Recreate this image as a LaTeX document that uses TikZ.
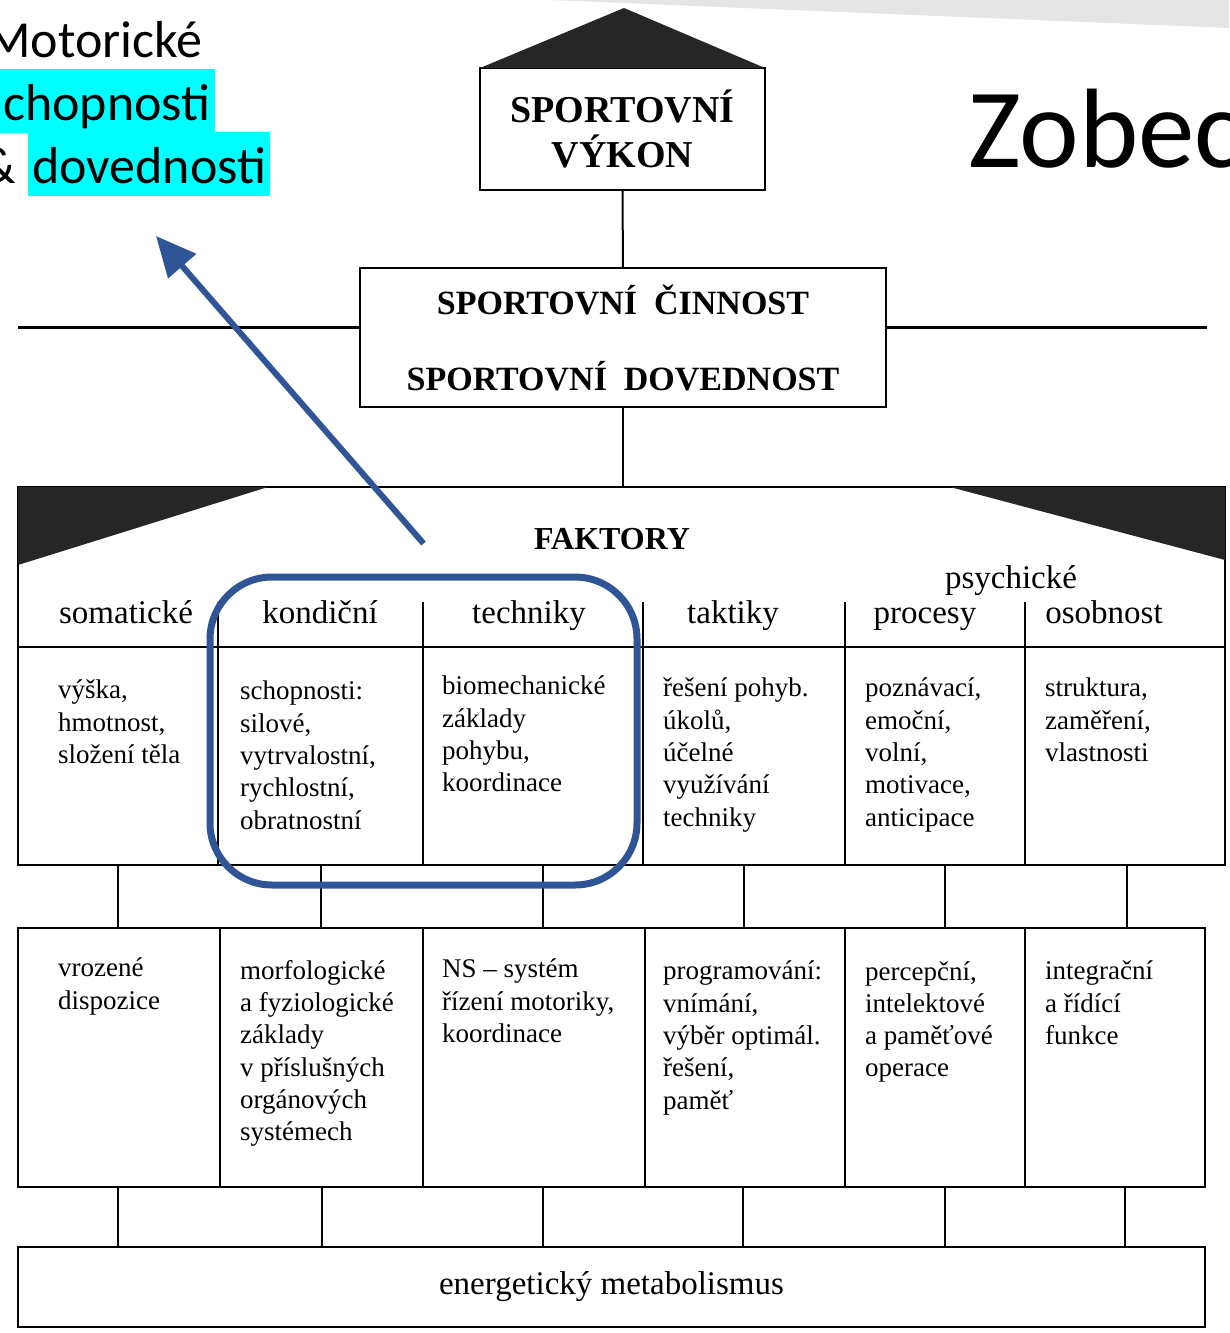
\documentclass[tikz,border=0pt]{standalone}
\usepackage{fontspec}
\setmainfont{Liberation Serif}
\newfontfamily\slidefont{Carlito}
\usetikzlibrary{positioning}
\usetikzlibrary{calc}
\usetikzlibrary{arrows.meta}
\definecolor{navy}{HTML}{2F5597}
\definecolor{marker}{HTML}{00FFFF}
\tikzset{box/.style={draw=black,line width=2.5pt,inner sep=0pt,outer sep=0pt}}
\tikzset{cella/.style={box,minimum height=218pt}}
\tikzset{cellb/.style={box,minimum height=259pt}}
\tikzset{ln/.style={line width=2pt}}
\tikzset{bar/.style={line width=3pt}}
\tikzset{dark/.style={fill=black!85}}
\tikzset{hd/.style={font=\fontsize{33}{38}\selectfont,inner sep=0pt,anchor=base}}
\tikzset{txt/.style={font=\fontsize{27}{32.3}\selectfont,align=left,inner sep=0pt}}
\tikzset{ttl/.style={font=\bfseries\fontsize{34}{76}\selectfont,align=center}}
\tikzset{sl/.style={font=\slidefont\fontsize{52}{63}\selectfont,inner sep=0pt}}
\tikzset{hl/.style={fill=marker,text height=51pt,text depth=13pt,inner xsep=4pt,inner ysep=0pt}}
\tikzset{sel/.style={draw=navy,line width=7pt,rounded corners=62pt,inner sep=0pt}}
\tikzset{>={Triangle[length=40pt,width=36pt]}}

\begin{document}
\begin{tikzpicture}[x=1pt,y=-1pt]
\useasboundingbox (0,0) rectangle (1229,1333);
\fill[black!10] (550,0) -- (1229,0) -- (1229,28) -- cycle;

\node[sl,anchor=base west] (mot) at (-14,57) {Motorické};
\node[sl,hl,anchor=base west] (sch) at (-1,120) {chopnosti};
\node[sl,hl,anchor=base west] (dov) at (28,183) {dovednosti};
\node[sl,anchor=base east] (amp) at (16,183) {\&};
\node[font=\slidefont\fontsize{113}{130}\selectfont,inner sep=0pt,anchor=base west] (zob) at (968,167) {Zobec};

\node[box,font=\bfseries\fontsize{38}{45}\selectfont,align=center,minimum width=285pt,minimum height=122pt] (vyk) at (622.5,129) {SPORTOVNÍ\\VÝKON};
\coordinate (roof) at (624,8);
\fill[dark] (vyk.north west) -- (roof) -- (vyk.north east) -- cycle;

\node[box,ttl,minimum width=526pt,minimum height=139pt] (cin) at (623,337.5) {SPORTOVNÍ~~ČINNOST\\SPORTOVNÍ~~DOVEDNOST};
\coordinate (wl) at (18,327);
\coordinate (wr) at (1207,327);
\draw[ln] (vyk) -- (cin);
\draw[bar] (wl) -- (wl -| cin.west);
\draw[bar] (cin.east |- wr) -- (wr);

\node[cella,minimum width=200pt] (a1) at (118,756) {};
\node[cella,minimum width=205pt,right=0pt of a1] (a2) {};
\node[cella,minimum width=220pt,right=0pt of a2] (a3) {};
\node[cella,minimum width=202pt,right=0pt of a3] (a4) {};
\node[cella,minimum width=180pt,right=0pt of a4] (a5) {};
\node[cella,minimum width=200pt,right=0pt of a5] (a6) {};

\node[box,minimum width=1207pt,minimum height=160pt,anchor=south west] (fak) at (a1.north west) {};
\fill[dark] (fak.north west) -- ++(250,0) -- ++(-250,78) -- cycle;
\fill[dark] (fak.north east) -- ++(-275,0) -- ++(275,73) -- cycle;
\draw[ln] (cin) -- (cin |- fak.north);
\foreach \i in {2,...,6} \draw[ln] (a\i.north west) -- ++(0,-45);

\node[font=\bfseries\fontsize{32}{38}\selectfont,inner sep=0pt,anchor=base] (fk) at (612,549) {FAKTORY};
\node[hd] (h1) at (126,623) {somatické};
\node[hd] (h2) at (320,623) {kondiční};
\node[hd] (h3) at (529,623) {techniky};
\node[hd] (h4) at (733,623) {taktiky};
\node[hd] (h5) at (925,623) {procesy};
\node[hd] (h6) at (1104,623) {osobnost};
\node[hd] (h7) at (1011,588) {psychické};

\node[txt,below right=33pt and 40pt of a1.north west] (ta1) {výška,\\hmotnost,\\složení těla};
\node[txt,below right=34pt and 22pt of a2.north west] (ta2) {schopnosti:\\silové,\\vytrvalostní,\\rychlostní,\\obratnostní};
\node[txt,below right=29pt and 19pt of a3.north west] (ta3) {biomechanické\\základy\\pohybu,\\koordinace};
\node[txt,below right=31pt and 20pt of a4.north west] (ta4) {řešení pohyb.\\úkolů,\\účelné\\využívání\\techniky};
\node[txt,below right=31pt and 20pt of a5.north west] (ta5) {poznávací,\\emoční,\\volní,\\motivace,\\anticipace};
\node[txt,below right=31pt and 20pt of a6.north west] (ta6) {struktura,\\zaměření,\\vlastnosti};

\node[cellb,minimum width=202pt,below right=63pt and 0pt of a1.south west] (b1) {};
\node[cellb,minimum width=203pt,right=0pt of b1] (b2) {};
\node[cellb,minimum width=222pt,right=0pt of b2] (b3) {};
\node[cellb,minimum width=200pt,right=0pt of b3] (b4) {};
\node[cellb,minimum width=180pt,right=0pt of b4] (b5) {};
\node[cellb,minimum width=180pt,right=0pt of b5] (b6) {};

\node[txt,below right=30pt and 40pt of b1.north west] (tb1) {vrozené\\dispozice};
\node[txt,below right=32pt and 20pt of b2.north west] (tb2) {morfologické\\a fyziologické\\základy\\v příslušných\\orgánových\\systémech};
\node[txt,below right=31pt and 19pt of b3.north west] (tb3) {NS – systém\\řízení motoriky,\\koordinace};
\node[txt,below right=33pt and 18pt of b4.north west] (tb4) {programování:\\vnímání,\\výběr optimál.\\řešení,\\paměť};
\node[txt,below right=33pt and 20pt of b5.north west] (tb5) {percepční,\\intelektové\\a paměťové\\operace};
\node[txt,below right=33pt and 20pt of b6.north west] (tb6) {integrační\\a řídící\\funkce};

\node[box,font=\fontsize{33}{38}\selectfont,minimum width=1187pt,minimum height=80pt,below right=60pt and 0pt of b1.south west] (en) {energetický metabolismus};

\foreach \i/\s in {1/0,2/0,3/10,4/0,5/10,6/2} {
  \coordinate (u\i) at ([xshift=\s pt]a\i.south);
  \draw[ln] (u\i) -- (u\i |- b\i.north);
}
\foreach \i/\s in {1/-1,2/0,3/9,4/-2,5/10,6/10} {
  \coordinate (v\i) at ([xshift=\s pt]b\i.south);
  \draw[ln] (v\i) -- (v\i |- en.north);
}

\node[sel,minimum width=427pt,minimum height=308pt] (pick) at (423.5,731) {};
\coordinate[above=30pt of pick.north] (p0);
\coordinate (p1) at (156,236);
\draw[navy,line width=6pt,->] (p0) -- (p1);

\end{tikzpicture}
\end{document}
